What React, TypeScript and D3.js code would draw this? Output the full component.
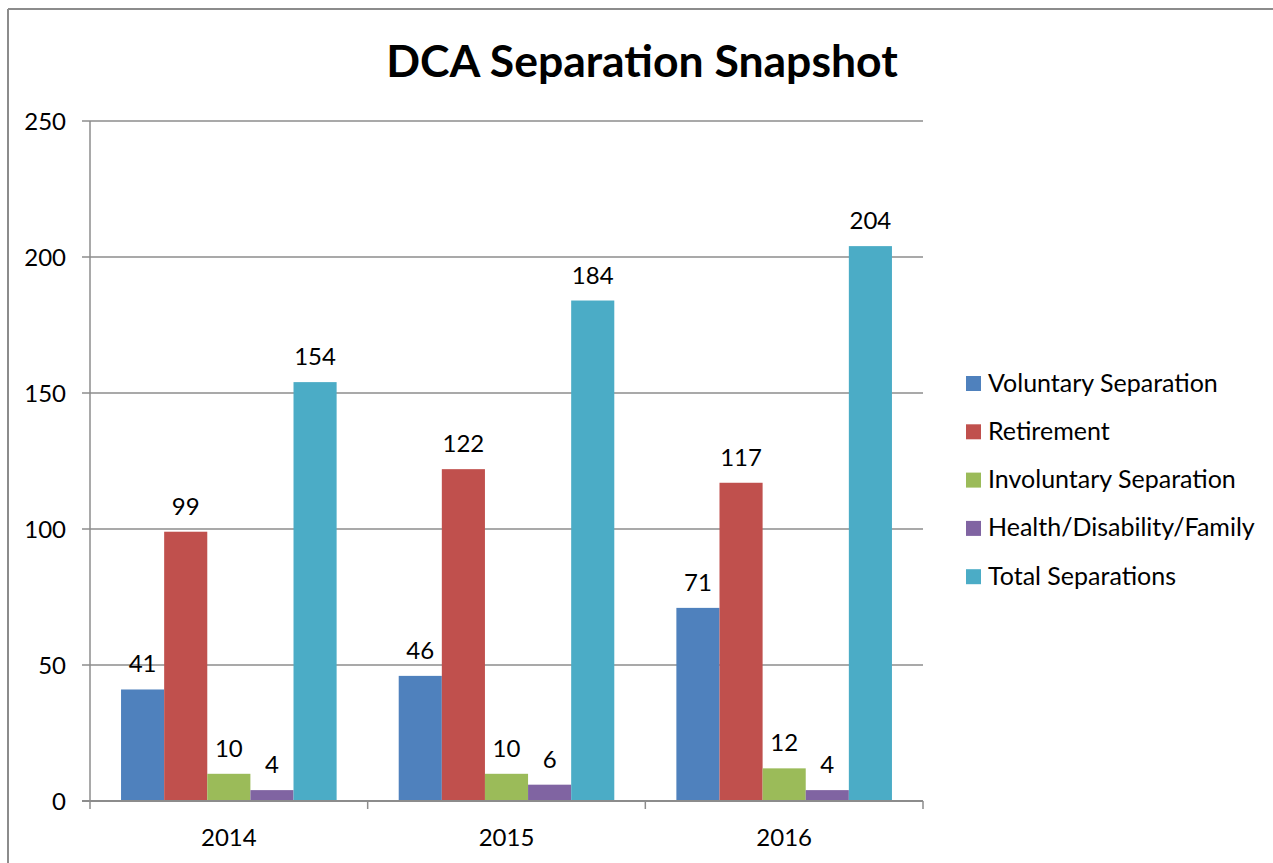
import React from 'react';
import * as d3 from 'd3';

const years = ['2014', '2015', '2016'];
const seriesNames = [
  'Voluntary Separation',
  'Retirement',
  'Involuntary Separation',
  'Health/Disability/Family',
  'Total Separations',
];
const voluntary = [41, 46, 71];
const retirement = [99, 122, 117];
const involuntary = [10, 10, 12];
const health = [4, 6, 4];
const total = [154, 184, 204];
const yTicks = [0, 50, 100, 150, 200, 250];
const colors = ['#4F81BD', '#C0504D', '#9BBB59', '#8064A2', '#4BACC6'];

const values = [voluntary, retirement, involuntary, health, total];

const App = () => {
  const width = 1273;
  const height = 863;
  const left = 90;
  const right = 923;
  const top = 121;
  const bottom = 801;
  const font = 'Lato, "Open Sans", sans-serif';

  const y = d3.scaleLinear().domain([0, 250]).range([bottom, top]);
  const x0 = d3.scaleBand().domain(years).range([left, right]).paddingInner(0).paddingOuter(0);
  // bars fill ~78% of each group, 31px gap on each side
  const x1 = d3
    .scaleBand()
    .domain(seriesNames)
    .range([0, x0.bandwidth()])
    .paddingInner(0)
    .paddingOuter(0.72);

  const grid = '#8c8c8c';

  return (
    <svg
      width={width}
      height={height}
      style={{ position: 'absolute', left: 0, top: 0, background: '#fff' }}
    >
      {/* outer frame */}
      <line x1={8} y1={9} x2={width} y2={9} stroke={grid} strokeWidth={2} />
      <line x1={8} y1={9} x2={8} y2={height} stroke={grid} strokeWidth={2} />

      <text
        x={642}
        y={77}
        textAnchor="middle"
        fontFamily={font}
        fontWeight="bold"
        fontSize={44.5}
        fill="#000"
      >
        DCA Separation Snapshot
      </text>

      {/* gridlines and y labels */}
      {yTicks.map((t) => (
        <g key={t}>
          <line x1={left - 8} x2={right} y1={y(t)} y2={y(t)} stroke={grid} strokeWidth={1.5} />
          <text
            x={66}
            y={y(t) + 8.5}
            textAnchor="end"
            fontFamily={font}
            fontSize={24}
            fill="#000"
          >
            {t}
          </text>
        </g>
      ))}
      <line x1={left} x2={left} y1={top} y2={bottom + 8} stroke={grid} strokeWidth={1.5} />

      {/* category ticks */}
      {years.map((yr) => (
        <line
          key={yr}
          x1={x0(yr)! + x0.bandwidth()}
          x2={x0(yr)! + x0.bandwidth()}
          y1={bottom}
          y2={bottom + 8}
          stroke={grid}
          strokeWidth={1.5}
        />
      ))}

      {/* bars */}
      {years.map((yr, i) => (
        <g key={yr} transform={`translate(${x0(yr)},0)`}>
          {seriesNames.map((s, j) => {
            const v = values[j][i];
            const bx = x1(s)!;
            return (
              <g key={s}>
                <rect
                  x={bx}
                  y={y(v)}
                  width={x1.bandwidth()}
                  height={bottom - y(v)}
                  fill={colors[j]}
                />
                <text
                  x={bx + x1.bandwidth() / 2}
                  y={y(v) - 17}
                  textAnchor="middle"
                  fontFamily={font}
                  fontSize={24}
                  fill="#000"
                >
                  {v}
                </text>
              </g>
            );
          })}
          <text
            x={x0.bandwidth() / 2}
            y={846}
            textAnchor="middle"
            fontFamily={font}
            fontSize={24}
            fill="#000"
          >
            {yr}
          </text>
        </g>
      ))}
      <line x1={left - 8} x2={right} y1={bottom} y2={bottom} stroke={grid} strokeWidth={2} />

      {/* legend */}
      {seriesNames.map((s, j) => (
        <g key={s} transform={`translate(966,${383 + j * 48.3})`}>
          <rect x={0} y={-7} width={15} height={15} fill={colors[j]} />
          <text x={22} y={8.5} fontFamily={font} fontSize={25} fill="#000">
            {s}
          </text>
        </g>
      ))}
    </svg>
  );
};

export default App;
